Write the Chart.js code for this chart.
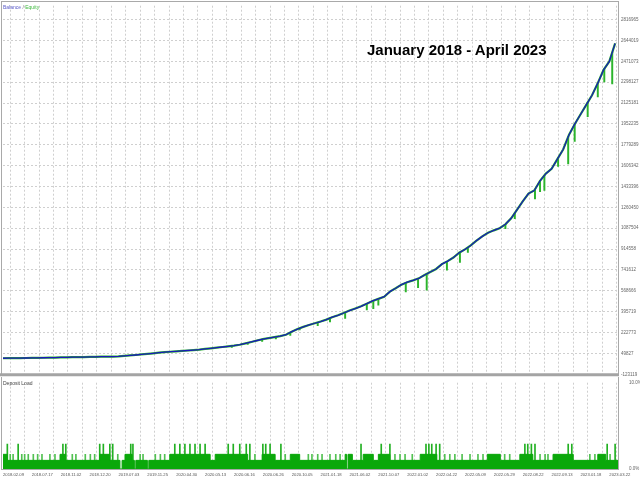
<!DOCTYPE html>
<html>
<head>
<meta charset="utf-8">
<script src="https://cdn.jsdelivr.net/npm/chart.js@4.4.0/dist/chart.umd.min.js"></script>
<style>
  html, body { margin: 0; padding: 0; background: #fff; }
  #wrap { position: relative; width: 640px; height: 480px; overflow: hidden; font-family: "Liberation Sans", Arial, sans-serif; }
  #topBox { position: absolute; left: 0; top: 0; width: 640px; height: 380px; }
  #bottomBox { position: absolute; left: 0; top: 377px; width: 640px; height: 103px; }
  .small { position: absolute; font-family: "Liberation Sans", sans-serif; font-size: 5px; line-height: 5px; white-space: nowrap; }
  #title { position: absolute; left: 367px; top: 41px; font-size: 15px; font-weight: bold; color: #000; white-space: nowrap; }
</style>
</head>
<body>
<div id="wrap">
  <div id="topBox"><canvas id="balanceChart"></canvas></div>
  <div id="bottomBox"><canvas id="loadChart"></canvas></div>
  <div class="small" style="left:3px; top:5px;"><span style="color:#5a5ac8">Balance</span><span style="color:#777"> / </span><span style="color:#3cb83c">Equity</span></div>
  <div class="small" style="left:3px; top:381px; color:#444;">Deposit Load</div>
  <div id="title">January 2018 - April 2023</div>
</div>
<script>
// balance curve, in thousands, one value every 8 trades
const balanceK = [
  10, 10.5, 11, 11.5, 12, 13, 13.5, 14, 15, 15.5,
  16.5, 17.5, 18.5, 19, 20, 21, 22, 23, 23.5, 24,
  25, 29, 33, 37, 42, 46, 51, 56, 60, 64,
  67, 71, 74, 77, 81, 87, 92, 98, 103, 108,
  114, 122, 133, 145, 157, 168, 177, 185, 193, 205,
  230, 252, 270, 286, 300, 314, 330, 350, 366, 385,
  405, 422, 440, 462, 485, 502, 520, 562, 590, 620,
  640, 655, 672, 700, 725, 750, 790, 815, 845, 885,
  912, 945, 985, 1020, 1050, 1070, 1088, 1120, 1170, 1240,
  1310, 1375, 1400, 1480, 1540, 1580, 1660, 1740, 1860, 1950,
  2030, 2110, 2190, 2290, 2400, 2470, 2620
];
const tradeStep = 8;

// equity drawdowns: trade number and lowest equity (thousands)
const dipTrades = [317, 339, 359, 378, 398, 411, 436, 453, 474, 504, 513, 520, 558, 575, 587, 615, 633, 644, 696, 709, 737, 744, 750, 769, 783, 792, 810, 824, 833, 844];
const dipLowsK  = [100, 125, 150, 170, 200, 245, 280, 310, 340, 410, 420, 450, 560, 595, 575, 740, 805, 887, 1084, 1166, 1330, 1390, 1400, 1600, 1620, 1807, 2012, 2176, 2300, 2283];

// deposit load (%): usual level, raised stretches, empty stretches and single spikes
const loadBasePct = 1.0;
const loadRaisedPct = 1.7;
const raisedFrom = [0, 79, 134, 169, 231, 294, 359, 398, 474, 499, 520, 578, 671, 716, 762, 824];
const raisedTo   = [6, 87, 148, 179, 287, 339, 377, 411, 484, 513, 536, 601, 689, 734, 790, 835];
const emptyFrom = [162, 182, 200, 476];
const emptyTo   = [165, 184, 202, 478];
const highSpikeTrades = [6, 21, 83, 87, 134, 139, 148, 152, 177, 180, 238, 245, 252, 259, 266, 273, 280,
  312, 319, 328, 337, 342, 360, 364, 370, 385, 496, 524, 536, 586, 590, 594, 600, 605, 723, 727, 732, 737,
  783, 788, 837, 848];
const highSpikePct = 2.9;
const lowSpikeTrades = [10, 14, 26, 30, 35, 42, 48, 54, 65, 72, 96, 101, 114, 121, 127, 159, 190, 194, 211,
  218, 224, 349, 391, 423, 428, 436, 442, 453, 461, 467, 543, 550, 557, 567, 612, 619, 626, 636, 647, 658,
  665, 695, 702, 744, 751, 755, 813, 820, 841];
const lowSpikePct = 1.7;

// axis labels
const yTickValues = [-123119, 49827, 222773, 395719, 568666, 741612, 914558, 1087504, 1260450, 1433396,
  1606342, 1779289, 1952235, 2125181, 2298127, 2471073, 2644019, 2816965];
const dateLabels = ['2018.02.09', '2018.07.17', '2018.11.02', '2018.12.20', '2019.07.03', '2019.11.25',
  '2020.04.30', '2020.05.13', '2020.06.16', '2020.06.26', '2020.10.05', '2021.01.18', '2021.06.02',
  '2021.10.07', '2022.01.02', '2022.04.22', '2022.05.09', '2022.05.29', '2022.08.22', '2022.09.13',
  '2023.01.18', '2023.03.22'];
const gridTrades = [];
for (let t = 0; t <= 840; t += 20) gridTrades.push(t);

const xMax = 852;
const yMin = -123119, yMax = 2931940;

const valueFont = { family: '"Liberation Sans", sans-serif', size: 4.5 };
const dateFont = { family: '"Liberation Sans", sans-serif', size: 4.2 };
const gridGrey = '#cfcfcf';

const balancePts = balanceK.map((v, i) => ({ x: i * tradeStep, y: v * 1000 }));

function balanceAt(t) {
  const i = Math.min(Math.floor(t / tradeStep), balanceK.length - 2);
  const f = (t - i * tradeStep) / tradeStep;
  return (balanceK[i] + (balanceK[i + 1] - balanceK[i]) * f) * 1000;
}
const dipBars = dipTrades.map((t, i) => ({ x: t, y: [dipLowsK[i] * 1000, balanceAt(t)] }));

// step line for the load band
const level = new Array(xMax + 1).fill(loadBasePct);
raisedFrom.forEach((s, i) => { for (let t = s; t < raisedTo[i]; t++) level[t] = loadRaisedPct; });
emptyFrom.forEach((s, i) => { for (let t = s; t < emptyTo[i]; t++) level[t] = 0; });
const loadPts = [];
level.forEach((v, t) => { if (t === 0 || v !== level[t - 1] || t === xMax) loadPts.push({ x: t, y: v }); });
const highSpikes = highSpikeTrades.map(t => ({ x: t, y: highSpikePct }));
const lowSpikes = lowSpikeTrades.map(t => ({ x: t, y: lowSpikePct }));

// panel frames (MT5 style)
const framePlugin = {
  id: 'frame',
  afterDraw(chart, args, opts) {
    const { ctx, chartArea: a } = chart;
    ctx.save();
    ctx.strokeStyle = '#a9a9a9';
    ctx.lineWidth = 1;
    ctx.beginPath();
    ctx.moveTo(1.5, opts.top ? 1 : 0);
    ctx.lineTo(1.5, a.bottom);
    ctx.moveTo(a.right + 0.5, opts.top ? 1 : 0);
    ctx.lineTo(a.right + 0.5, a.bottom);
    if (opts.top) {
      ctx.moveTo(1, 1.5);
      ctx.lineTo(a.right + 1, 1.5);
    }
    ctx.stroke();
    if (opts.top) {
      ctx.strokeStyle = '#a4a4a4';
      ctx.lineWidth = 3;
      ctx.beginPath();
      ctx.moveTo(0, a.bottom + 0.5);
      ctx.lineTo(a.right + 1, a.bottom + 0.5);
      ctx.stroke();
    } else {
      ctx.beginPath();
      ctx.moveTo(1, a.bottom + 0.5);
      ctx.lineTo(a.right + 1, a.bottom + 0.5);
      ctx.stroke();
    }
    ctx.restore();
  }
};

const xGridTicks = s => { s.ticks = gridTrades.map(v => ({ value: v })); };

new Chart(document.getElementById('balanceChart'), {
  type: 'line',
  data: {
    datasets: [
      { label: 'Balance', data: balancePts, borderColor: '#1a1ab8', borderWidth: 1.3, pointRadius: 0, tension: 0, order: 0 },
      { type: 'bar', label: 'Equity dips', data: dipBars, backgroundColor: '#2cb42c', barThickness: 1.3, grouped: false, order: 1 },
      { label: 'Equity', data: balancePts, borderColor: '#2cb42c', borderWidth: 2.2, pointRadius: 0, tension: 0, order: 2 }
    ]
  },
  plugins: [framePlugin],
  options: {
    responsive: true,
    maintainAspectRatio: false,
    animation: false,
    layout: { padding: { left: 3, top: 3, right: 0, bottom: 0 } },
    plugins: { legend: { display: false }, tooltip: { enabled: false }, frame: { top: true } },
    scales: {
      x: {
        type: 'linear', min: 0, max: xMax, offset: false,
        afterBuildTicks: xGridTicks,
        afterFit: s => { s.height = 5; },
        ticks: { display: false },
        grid: { color: gridGrey, drawTicks: false },
        border: { display: false, dash: [2, 2] }
      },
      y: {
        position: 'right', min: yMin, max: yMax,
        afterBuildTicks: s => { s.ticks = yTickValues.map(v => ({ value: v })); },
        afterFit: s => { s.width = 22; },
        ticks: { font: valueFont, color: '#666', padding: 3, callback: v => String(v) },
        grid: { color: gridGrey, drawTicks: false },
        border: { display: false, dash: [2, 2] }
      }
    }
  }
});

new Chart(document.getElementById('loadChart'), {
  type: 'line',
  data: {
    datasets: [
      { label: 'Deposit Load', data: loadPts, stepped: true, fill: 'origin', backgroundColor: '#0aa80a', borderColor: '#0aa80a', borderWidth: 1, pointRadius: 0, order: 0 },
      { type: 'bar', label: 'Peaks', data: highSpikes, backgroundColor: '#22b022', barThickness: 1, grouped: false, order: 1 },
      { type: 'bar', label: 'Small peaks', data: lowSpikes, backgroundColor: '#52c152', barThickness: 1, grouped: false, order: 2 }
    ]
  },
  plugins: [framePlugin],
  options: {
    responsive: true,
    maintainAspectRatio: false,
    animation: false,
    layout: { padding: { left: 3, top: 4, right: 0, bottom: 0 } },
    plugins: { legend: { display: false }, tooltip: { enabled: false }, frame: { top: false } },
    scales: {
      x: {
        type: 'linear', min: 0, max: xMax, offset: false,
        afterBuildTicks: xGridTicks,
        afterFit: s => { s.height = 11; },
        ticks: {
          font: dateFont, color: '#555', padding: 3, align: 'start',
          maxRotation: 0, minRotation: 0, autoSkip: false,
          callback: v => (v % 40 === 0 ? dateLabels[v / 40] : '')
        },
        grid: { color: gridGrey, drawTicks: false },
        border: { display: false, dash: [2, 2] }
      },
      y: {
        position: 'right', min: 0, max: 10,
        afterBuildTicks: s => { s.ticks = [{ value: 0 }, { value: 10 }]; },
        afterFit: s => { s.width = 22; },
        ticks: { font: valueFont, color: '#666', padding: 3, callback: v => v.toFixed(1) + '%' },
        grid: { display: false },
        border: { display: false }
      }
    }
  }
});
</script>
</body>
</html>
